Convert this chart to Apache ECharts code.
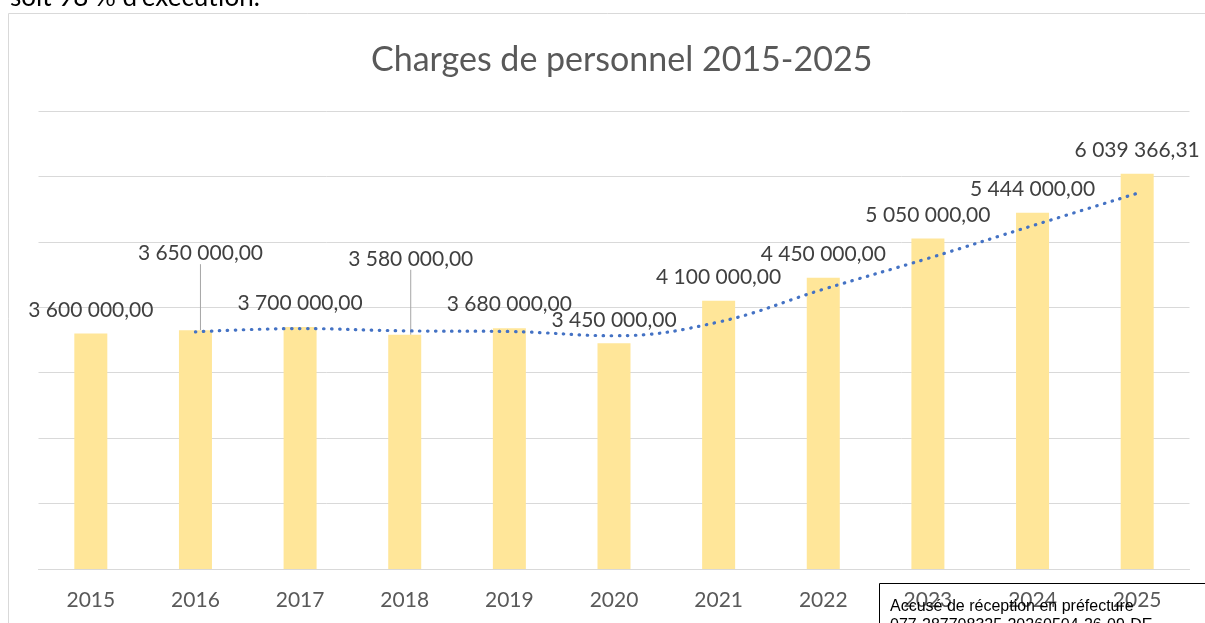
<!DOCTYPE html>
<html>
<head>
<meta charset="utf-8">
<title>Charges de personnel 2015-2025</title>
<script src="https://cdn.jsdelivr.net/npm/echarts@6/dist/echarts.min.js"></script>
<style>
    html, body {margin:0; padding:0; background:#fff;}
    #charges-chart {width:1205px; height:623px;}
</style>
</head>
<body>
<div id="charges-chart"></div>
<script>
// données
var annees = ['2015','2016','2017','2018','2019','2020','2021','2022','2023','2024','2025'];
var charges = [3600000, 3650000, 3700000, 3580000, 3680000, 3450000, 4100000, 4450000, 5050000, 5444000, 6039366.31];
// courbe de tendance (moyenne mobile)
var tendance = [null, 3625000, 3675000, 3640000, 3630000, 3565000, 3775000, 4275000, 4747000, 5247000, 5742000];
var graduations = [0, 1000000, 2000000, 3000000, 4000000, 5000000, 6000000, 7000000];
// étiquettes remontées avec trait de rappel (2016, 2018)
var etiquettesDeplacees = [1, 3];

var police = 'Lato, "Noto Sans", sans-serif';

//format français : 3 600 000,00
var formatEuro = function(v){
    var parts = Number(v).toFixed(2).split('.');
    return parts[0].replace(/\B(?=(\d{3})+(?!\d))/g, ' ') + ',' + parts[1];
}

var showChargesChart = function(idObj){
    var chart = echarts.init(idObj);
    var barData = charges.map(function(v, i){
        var item = {value: v};
        if (etiquettesDeplacees.indexOf(i) >= 0){
            item.labelLine = {show: true};
        }
        return item;
    });
    chart.setOption({
        animation: false,
        textStyle: {fontFamily: police},
        title: {
            text: 'Charges de personnel 2015-2025',
            left: 366,
            top: 38,
            textStyle: {fontSize: 34, fontWeight: 'normal', color: '#595959', fontFamily: police}
        },
        grid: {left: 38.5, right: 15.5, top: 111, bottom: 54},
        xAxis: [{
            type: 'category',
            data: annees,
            axisLine: {lineStyle: {color: '#d9d9d9', width: 1}},
            axisTick: {show: false},
            axisLabel: {color: '#595959', fontSize: 21, margin: 21, fontFamily: police}
        }],
        yAxis: [{
            type: 'value',
            min: graduations[0],
            max: graduations[graduations.length - 1],
            interval: 1000000,
            axisLabel: {show: false},
            axisLine: {show: false},
            axisTick: {show: false},
            splitLine: {lineStyle: {color: '#d9d9d9', width: 1}}
        }],
        series: [
            {
                name: 'Charges',
                type: 'bar',
                data: barData,
                barWidth: 33,
                itemStyle: {color: '#ffe699'},
                label: {
                    show: true,
                    position: 'top',
                    distance: 13,
                    color: '#404040',
                    fontSize: 21,
                    fontFamily: police,
                    formatter: function(p){ return formatEuro(p.value); }
                },
                labelLine: {show: false, lineStyle: {color: '#a6a6a6', width: 1}},
                labelLayout: function(p){
                    if (p.dataIndex === 1) return {dx: 5, dy: -53};
                    if (p.dataIndex === 3) return {dx: 6, dy: -52};
                    return {};
                }
            },
            {
                name: 'Tendance',
                type: 'line',
                data: tendance,
                smooth: 0.4,
                symbol: 'none',
                z: 5,
                lineStyle: {color: '#4472c4', width: 3.2, type: [0.5, 7.5], cap: 'round'}
            }
        ],
        graphic: [
            {
                type: 'rect', z: -1,
                shape: {x: 8.5, y: 13.5, width: 1400, height: 800},
                style: {fill: null, stroke: '#d9d9d9', lineWidth: 1}
            },
            {
                type: 'text', left: 10, top: -15,
                style: {text: 'soit 98 % d\u2019exécution.', fill: '#000', font: '26px ' + police}
            },
            {
                type: 'rect', z: 100,
                shape: {x: 879.5, y: 583.5, width: 400, height: 100},
                style: {fill: null, stroke: '#000', lineWidth: 1}
            },
            {
                type: 'text', z: 101, left: 890, top: 597,
                style: {text: 'Accusé de réception en préfecture\n077-287708325-20260504-26-09-DE', fill: '#000', font: '16px "Liberation Sans", Arial, sans-serif', lineHeight: 19}
            }
        ]
    });
}

showChargesChart(document.getElementById('charges-chart'));
</script>
</body>
</html>
